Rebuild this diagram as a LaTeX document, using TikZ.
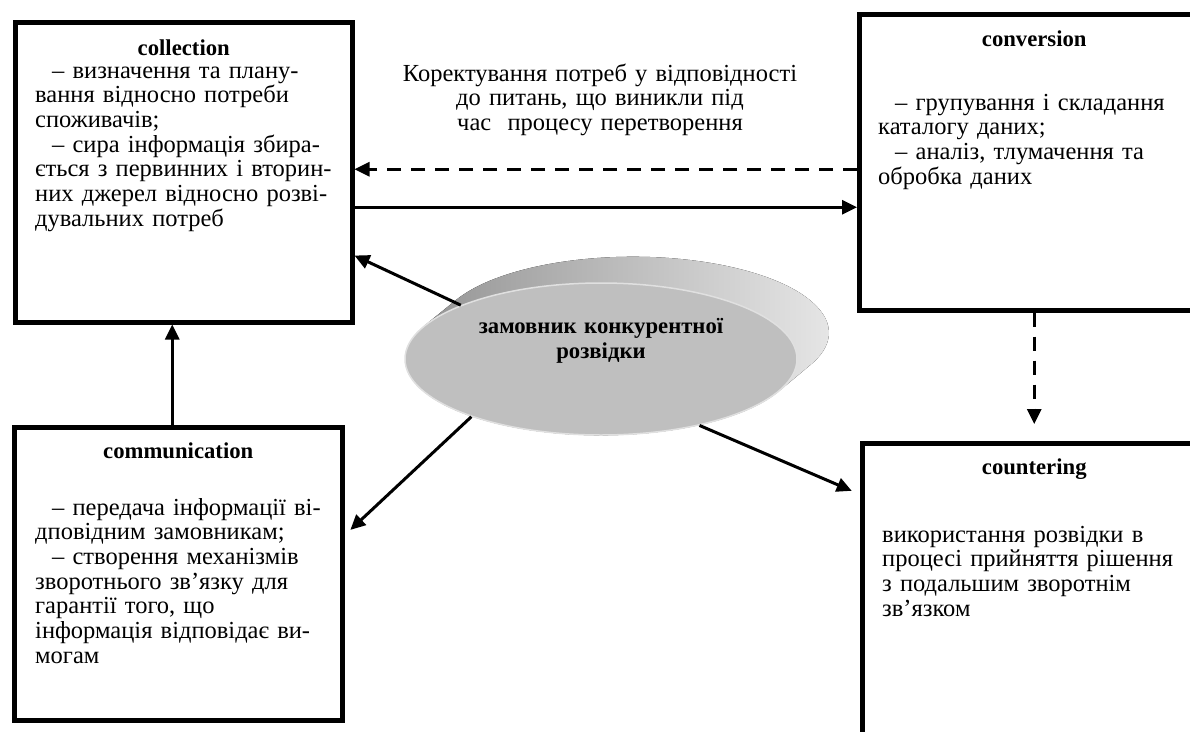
\documentclass[tikz,border=0pt]{standalone}
\usepackage{fontspec}
\setmainfont{Liberation Serif}
\usetikzlibrary{positioning,shapes.geometric,arrows.meta,calc}

\tikzset{
  stagebox/.style={draw, line width=4.5pt, inner sep=0pt, anchor=north west},
  boxtitle/.style={font=\fontsize{22.7}{25}\selectfont\bfseries, anchor=base, inner sep=0pt},
  boxtext/.style={font=\fontsize{24.5}{24.7}\selectfont, text width=340pt, align=left, anchor=base west, inner sep=0pt},
  arr/.style={line width=3pt, -{Triangle[length=15pt,width=14pt]}},
  dasharr/.style={arr, dash pattern=on 14pt off 10pt},
}
\newcommand{\ind}{\hspace*{17pt}}

\begin{document}
\begin{tikzpicture}[x=1pt,y=-1pt]
  \useasboundingbox (0,0) rectangle (1190,731);
  \clip (0,0) rectangle (1190,731);
  % the four stages
  \node[stagebox, minimum width=337, minimum height=300] (collection) at (13,20) {};
  \node[stagebox, minimum width=350, minimum height=296] (conversion) at (857,12) {};
  \node[stagebox, minimum width=328, minimum height=293] (communication) at (12,425) {};
  \node[stagebox, minimum width=344, minimum height=320] (countering) at (860,441) {};
  \node[boxtitle] (collectiontitle) at ([yshift=-35pt]collection.north) {collection};
  \node[boxtitle] (conversiontitle) at ([yshift=-34pt]conversion.north) {conversion};
  \node[boxtitle] (communicationtitle) at ([yshift=-33pt]communication.north) {communication};
  \node[boxtitle] (counteringtitle) at ([yshift=-33pt]countering.north) {countering};
  \node[boxtext] (collectiontext) at ([xshift=22pt,yshift=-58pt]collection.north west)
    {\ind– визначення та плану-\\вання відносно потреби\\споживачів;\\\ind– сира інформація збира-\\ється з первинних і вторин-\\них джерел відносно розві-\\дувальних потреб};
  \node[boxtext] (conversiontext) at ([xshift=21pt,yshift=-98pt]conversion.north west)
    {\ind– групування і складання\\каталогу даних;\\\ind– аналіз, тлумачення та\\обробка даних};
  \node[boxtext] (communicationtext) at ([xshift=23pt,yshift=-90pt]communication.north west)
    {\ind– передача інформації ві-\\дповідним замовникам;\\\ind– створення механізмів\\зворотнього зв’язку для\\гарантії того, що\\інформація відповідає ви-\\могам};
  \node[boxtext] (counteringtext) at ([xshift=22pt,yshift=-101pt]countering.north west)
    {використання розвідки в\\процесі прийняття рішення\\з подальшим зворотнім\\зв’язком};
  % feedback note
  \node[boxtext, text width=460pt, align=center, anchor=base] (fixnote) at (600,81)
    {Коректування потреб у відповідності\\до питань, що виникли під\\час\ \ процесу перетворення};
  % customer disc
  \fill[left color=black!45, right color=black!8] (424,326) -- (456,300)
    arc[start angle=205.5, end angle=385.5, x radius=196, y radius=76] -- (778,392)
    arc[start angle=25.5, end angle=205.5, x radius=196, y radius=76] -- cycle;
  \node[ellipse, fill=black!25, draw=black!12, line width=1.5pt, minimum width=392pt, minimum height=152pt, inner sep=0pt] (client) at (601,359) {};
  \node[boxtitle, align=center, text width=300pt] (clientlabel) at ([yshift=26pt]client.center)
    {замовник конкурентної\\розвідки};
  % connectors
  \coordinate (fbk) at ([yshift=3pt]collection.east);
  \coordinate (fwd) at ([yshift=-35pt]collection.east);
  \coordinate (upfoot) at ([xshift=-6pt]communication.north);
  \draw[dasharr] (conversion.west |- fbk) -- (fbk);
  \draw[arr] (fwd) -- (conversion.west |- fwd);
  \draw[dasharr, shorten >=17pt] (conversion.south) -- (countering.north);
  \draw[arr] (upfoot) -- (upfoot |- collection.south);
  \draw[arr] (client.159) -- (collection.-26);
  \draw[arr, shorten >=8pt] (client.204) -- (communication.13);
  \draw[arr, shorten >=9pt] (client.-34) -- (countering.148);
\end{tikzpicture}
\end{document}
